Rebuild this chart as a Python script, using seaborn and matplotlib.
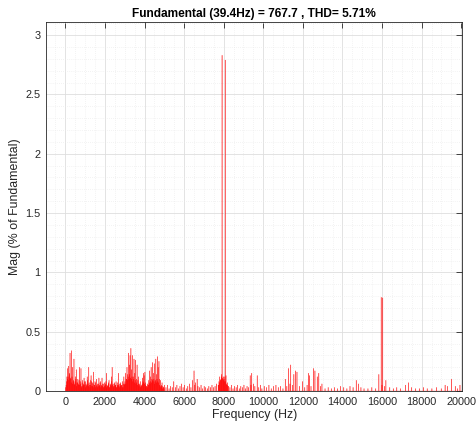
import numpy as np
import pandas as pd
import matplotlib
matplotlib.use("Agg")
import matplotlib.pyplot as plt
from matplotlib.ticker import MultipleLocator, FuncFormatter
import seaborn as sns

# ---------------- data ----------------
fundamental_hz = 39.4
title_text = "Fundamental (39.4Hz) = 767.7 , THD= 5.71%"
x_label = "Frequency (Hz)"
y_label = "Mag (% of Fundamental)"

# harmonic orders 1..127 (0 - 5 kHz), magnitude in % of fundamental
low_mags = [
    0.05, 0.12, 0.19, 0.21, 0.15, 0.32, 0.10, 0.34, 0.20, 0.08,
    0.27, 0.06, 0.12, 0.18, 0.07, 0.10, 0.05, 0.20, 0.08, 0.19,
    0.04, 0.09, 0.06, 0.11, 0.05, 0.08, 0.04, 0.12, 0.06, 0.20,
    0.05, 0.09, 0.13, 0.04, 0.07, 0.16, 0.05, 0.08, 0.03, 0.10,
    0.06, 0.04, 0.11, 0.05, 0.08, 0.04, 0.11, 0.06, 0.03, 0.07,
    0.05, 0.08, 0.15, 0.04, 0.06, 0.09, 0.03, 0.05, 0.12, 0.20,
    0.06, 0.04, 0.07, 0.05, 0.08, 0.03, 0.05, 0.15, 0.06, 0.04,
    0.07, 0.05, 0.08, 0.03, 0.12, 0.06, 0.15, 0.10, 0.20, 0.14,
    0.32, 0.22, 0.30, 0.36, 0.18, 0.30, 0.12, 0.27, 0.15, 0.26,
    0.10, 0.22, 0.09, 0.12, 0.06, 0.08, 0.04, 0.05, 0.11, 0.15,
    0.13, 0.16, 0.07, 0.04, 0.06, 0.05, 0.09, 0.17, 0.12, 0.20,
    0.10, 0.24, 0.15, 0.23, 0.08, 0.27, 0.14, 0.29, 0.20, 0.25,
    0.10, 0.09, 0.05, 0.07, 0.04, 0.03, 0.05,
]

# inter-harmonic bins 0.5 .. 126.5 (0 - 5 kHz)
inter_mags = [
    0.03, 0.08, 0.10, 0.12, 0.09, 0.14, 0.11, 0.07, 0.12, 0.06,
    0.09, 0.05, 0.08, 0.10, 0.04, 0.07, 0.06, 0.09, 0.05, 0.06,
    0.03, 0.07, 0.04, 0.05, 0.08, 0.03, 0.06, 0.05, 0.09, 0.04,
    0.07, 0.03, 0.05, 0.08, 0.04, 0.06, 0.03, 0.05, 0.07, 0.04,
    0.05, 0.03, 0.06, 0.04, 0.07, 0.03, 0.05, 0.04, 0.06, 0.03,
    0.04, 0.06, 0.03, 0.05, 0.04, 0.07, 0.03, 0.06, 0.04, 0.08,
    0.05, 0.03, 0.06, 0.04, 0.05, 0.03, 0.07, 0.04, 0.05, 0.03,
    0.06, 0.04, 0.05, 0.03, 0.06, 0.05, 0.08, 0.06, 0.10, 0.09,
    0.12, 0.10, 0.14, 0.11, 0.10, 0.12, 0.08, 0.10, 0.07, 0.09,
    0.06, 0.07, 0.05, 0.06, 0.04, 0.05, 0.03, 0.04, 0.06, 0.08,
    0.07, 0.06, 0.05, 0.03, 0.04, 0.03, 0.05, 0.07, 0.06, 0.08,
    0.07, 0.09, 0.08, 0.10, 0.06, 0.09, 0.07, 0.10, 0.08, 0.07,
    0.05, 0.04, 0.03, 0.04, 0.02, 0.03, 0.02,
]

# sparse harmonic orders above 5 kHz and their magnitudes
high_orders = [
    129, 131, 133, 135, 137, 139, 141, 143, 145, 147, 149, 151, 153, 155,
    157, 159, 161, 163, 165, 166, 167, 169, 170, 172, 174, 176, 178, 180,
    182, 184, 186, 188, 190, 192, 194, 196, 197, 198, 199, 200, 201, 202,
    203, 204, 205, 206, 207, 208, 209, 211, 213, 215, 217, 219, 221, 223,
    225, 227, 229, 231, 233, 235, 237, 238, 239, 241, 243, 246, 248, 250,
    252, 255, 258, 261, 264, 267, 270, 273, 276, 279, 282, 284, 286, 288,
    289, 291, 293, 295, 297, 300, 304, 307, 310, 312, 313, 315, 318, 320,
    323, 325, 327, 329, 333, 337, 341, 345, 349, 353, 357, 361, 365, 369,
    373, 376, 379, 383, 388, 393, 398, 402, 405, 406, 407, 409, 411, 416,
    421, 425, 430, 436, 440, 444, 449, 454, 459, 464, 470, 476, 482, 487,
    490, 495, 500, 503, 506,
]
high_mags = [
    0.03, 0.05, 0.02, 0.04, 0.03, 0.08, 0.03, 0.05, 0.02, 0.04, 0.06, 0.03, 0.05, 0.02,
    0.04, 0.06, 0.03, 0.09, 0.17, 0.05, 0.07, 0.10, 0.04, 0.03, 0.05, 0.02, 0.04, 0.03,
    0.02, 0.04, 0.03, 0.05, 0.03, 0.04, 0.06, 0.05, 0.08, 0.12, 0.09, 0.14, 2.83, 0.10,
    0.12, 0.08, 2.79, 0.13, 0.05, 0.07, 0.04, 0.03, 0.05, 0.02, 0.04, 0.03, 0.05, 0.02,
    0.04, 0.03, 0.05, 0.02, 0.04, 0.03, 0.13, 0.05, 0.15, 0.06, 0.04, 0.13, 0.03, 0.05,
    0.02, 0.04, 0.03, 0.05, 0.02, 0.04, 0.05, 0.03, 0.04, 0.02, 0.10, 0.04, 0.19, 0.06,
    0.22, 0.05, 0.14, 0.17, 0.16, 0.04, 0.08, 0.03, 0.05, 0.15, 0.13, 0.04, 0.19, 0.17,
    0.12, 0.15, 0.04, 0.06, 0.02, 0.03, 0.02, 0.03, 0.02, 0.04, 0.03, 0.02, 0.04, 0.03,
    0.09, 0.06, 0.03, 0.02, 0.02, 0.03, 0.02, 0.14, 0.79, 0.05, 0.785, 0.04, 0.09, 0.03,
    0.02, 0.03, 0.02, 0.05, 0.07, 0.03, 0.02, 0.02, 0.03, 0.02, 0.02, 0.03, 0.02, 0.05,
    0.04, 0.10, 0.04, 0.02, 0.05,
]

# inter-harmonic bins around the 8 kHz carrier
mid_orders = [196.5, 197.5, 198.5, 199.5, 200.5, 201.5, 202.5,
              203.5, 204.5, 205.5, 206.5, 207.5, 208.5]
mid_mags = [0.05, 0.07, 0.09, 0.10, 0.12, 0.11, 0.09,
            0.10, 0.12, 0.08, 0.06, 0.05, 0.04]

inter_orders = [k + 0.5 for k in range(len(inter_mags))]
orders = list(range(1, len(low_mags) + 1)) + inter_orders + high_orders + mid_orders
mags = low_mags + inter_mags + high_mags + mid_mags
df = pd.DataFrame({"order": orders, "mag": mags})
df["freq"] = df["order"] * fundamental_hz

# ---------------- style ----------------
sns.set_theme(style="white")
plt.rcParams["font.family"] = ["Liberation Sans", "DejaVu Sans"]
text_col = "#262626"

fig = plt.figure(figsize=(4.76, 4.25), dpi=100)
ax = fig.add_axes([0.097, 0.080, 0.874, 0.868])

half_bin = fundamental_hz / 2
sns.histplot(
    data=df, x="freq", weights="mag",
    binwidth=half_bin,
    binrange=(-0.5 * half_bin, 1021.5 * half_bin),
    shrink=1.0, color="#ff0000", alpha=1.0,
    edgecolor="#ff0000", linewidth=0.15, ax=ax, zorder=3, snap=False,
)

ax.set_xlim(-970, 20050)
ax.set_ylim(0, 3.11)
ax.xaxis.set_major_locator(MultipleLocator(2000))
ax.xaxis.set_minor_locator(MultipleLocator(500))
ax.yaxis.set_major_locator(MultipleLocator(0.5))
ax.yaxis.set_minor_locator(MultipleLocator(0.1))
ax.yaxis.set_major_formatter(FuncFormatter(lambda v, p: f"{v:g}"))
ax.xaxis.set_major_formatter(FuncFormatter(lambda v, p: f"{v:g}"))

ax.grid(which="major", color="#dedede", linewidth=0.6, linestyle="-", zorder=0)
ax.grid(which="minor", color="#e8e8e8", linewidth=0.5, linestyle=(0, (1, 2)), zorder=0)
ax.set_axisbelow(True)

ax.tick_params(which="major", direction="in", length=4, width=0.6, colors=text_col,
               labelsize=7.8, top=True, right=True, pad=4)
ax.tick_params(which="minor", length=0, top=True, right=True)
for s in ax.spines.values():
    s.set_color(text_col)
    s.set_linewidth(0.6)
    s.set_visible(True)

ax.set_xlabel(x_label, fontsize=8.9, color=text_col, labelpad=2)
ax.set_ylabel(y_label, fontsize=8.9, color=text_col, labelpad=3)
ax.set_title(title_text, fontsize=8.6, fontweight="bold", color="#000000", pad=4)

fig.savefig("out.png", dpi=100, facecolor="white")
